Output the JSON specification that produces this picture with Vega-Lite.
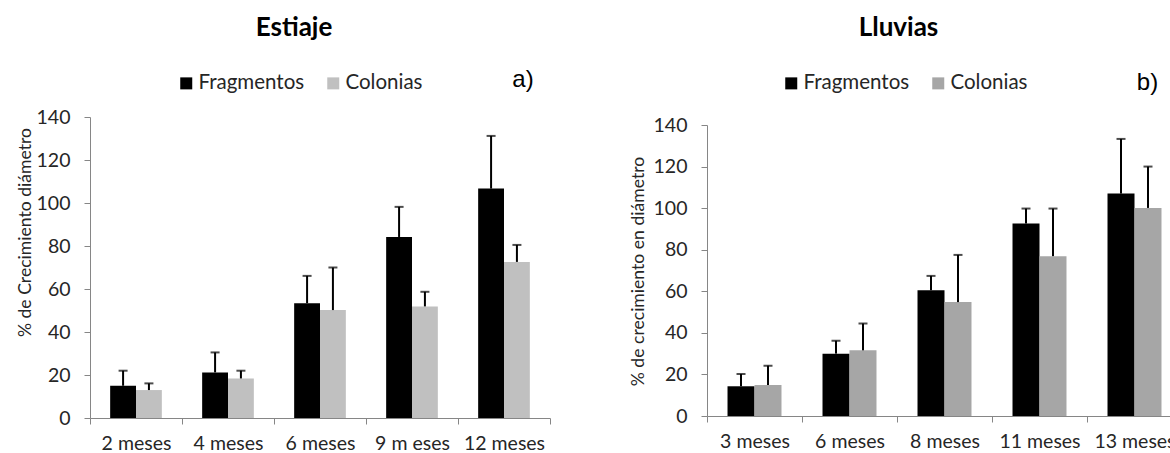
{
  "$schema": "https://vega.github.io/schema/vega-lite/v6.json",
  "background": "white",
  "padding": {"left": 15, "top": 15, "right": 0, "bottom": 0},
  "config": {
    "view": {"stroke": null},
    "font": "Lato",
    "axis": {"labelFont": "Lato", "labelFontSize": 19.5, "labelColor": "#262626", "titleFont": "Lato", "titleFontSize": 17.6, "titleFontWeight": "normal", "titleColor": "#262626", "domainColor": "#868686", "tickColor": "#868686", "grid": false, "tickSize": 6, "domainWidth": 1, "tickWidth": 1},
    "legend": {"orient": "none", "direction": "horizontal", "symbolType": "square", "symbolSize": 144, "symbolStrokeWidth": 0, "labelFont": "Lato", "labelFontSize": 20.5, "labelColor": "#262626", "columnPadding": 18, "labelOffset": 2, "padding": 0},
    "title": {"font": "Lato", "fontSize": 26, "fontWeight": "bold", "color": "#000000"}
  },
  "spacing": 78,
  "resolve": {"scale": {"x": "independent", "y": "independent", "color": "independent", "xOffset": "independent"}, "legend": {"color": "independent"}, "axis": {"x": "independent", "y": "independent"}},
  "hconcat": [
    {
      "title": {"text": "Estiaje", "frame": "group", "anchor": "middle", "dx": -26, "offset": 27},
      "width": 460,
      "height": 301,
      "data": {"values": [
        {"periodo": "2 meses", "serie": "Fragmentos", "value": 15.0, "hi": 22.0},
        {"periodo": "2 meses", "serie": "Colonias", "value": 13.0, "hi": 16.1},
        {"periodo": "4 meses", "serie": "Fragmentos", "value": 21.2, "hi": 30.5},
        {"periodo": "4 meses", "serie": "Colonias", "value": 18.4, "hi": 22.0},
        {"periodo": "6 meses", "serie": "Fragmentos", "value": 53.4, "hi": 66.1},
        {"periodo": "6 meses", "serie": "Colonias", "value": 50.2, "hi": 70.0},
        {"periodo": "9 m eses", "serie": "Fragmentos", "value": 84.2, "hi": 98.2},
        {"periodo": "9 m eses", "serie": "Colonias", "value": 51.9, "hi": 58.7},
        {"periodo": "12 meses", "serie": "Fragmentos", "value": 106.7, "hi": 131.2},
        {"periodo": "12 meses", "serie": "Colonias", "value": 72.6, "hi": 80.5}
      ]},
      "layer": [
        {
          "mark": {"type": "bar"},
          "encoding": {
            "x": {"field": "periodo", "type": "nominal", "sort": ["2 meses", "4 meses", "6 meses", "9 m eses", "12 meses"], "scale": {"paddingInner": 0, "paddingOuter": 0}, "axis": {"title": null, "labelAngle": 0, "tickBand": "extent", "labelPadding": 10}},
            "xOffset": {"field": "serie", "type": "nominal", "sort": ["Fragmentos", "Colonias"], "scale": {"paddingInner": 0, "paddingOuter": 0.78}},
            "y": {"field": "value", "type": "quantitative", "scale": {"domain": [0, 140], "nice": false}, "axis": {"title": "% de Crecimiento diámetro", "values": [0, 20, 40, 60, 80, 100, 120, 140], "titleX": -65, "titleY": 115, "titleAngle": -90, "titleBaseline": "middle", "titleAlign": "center", "labelPadding": 14}},
            "color": {"field": "serie", "type": "nominal", "sort": ["Fragmentos", "Colonias"], "scale": {"domain": ["Fragmentos", "Colonias"], "range": ["#000000", "#c0c0c0"]}, "legend": {"title": null, "legendX": 86, "legendY": -44}}
          }
        },
        {
          "mark": {"type": "rule", "strokeWidth": 2, "color": "#000000"},
          "encoding": {
            "x": {"field": "periodo", "type": "nominal", "sort": ["2 meses", "4 meses", "6 meses", "9 m eses", "12 meses"]},
            "xOffset": {"field": "serie", "type": "nominal", "sort": ["Fragmentos", "Colonias"]},
            "y": {"field": "value", "type": "quantitative", "title": "% de Crecimiento diámetro"},
            "y2": {"field": "hi"}
          }
        },
        {
          "mark": {"type": "tick", "size": 9, "thickness": 2, "color": "#000000", "orient": "horizontal"},
          "encoding": {
            "x": {"field": "periodo", "type": "nominal", "sort": ["2 meses", "4 meses", "6 meses", "9 m eses", "12 meses"]},
            "xOffset": {"field": "serie", "type": "nominal", "sort": ["Fragmentos", "Colonias"]},
            "y": {"field": "hi", "type": "quantitative", "title": "% de Crecimiento diámetro"}
          }
        },
        {
          "data": {"values": [{"periodo": "12 meses", "value": 157.2, "etiqueta": "a)"}]},
          "mark": {"type": "text", "font": "Liberation Sans", "fontSize": 24, "dx": 19, "baseline": "middle", "align": "center", "color": "#000000"},
          "encoding": {
            "x": {"field": "periodo", "type": "nominal", "sort": ["2 meses", "4 meses", "6 meses", "9 m eses", "12 meses"]},
            "y": {"field": "value", "type": "quantitative", "title": "% de Crecimiento diámetro"},
            "text": {"field": "etiqueta"}
          }
        }
      ]
    },
    {
      "title": {"text": "Lluvias", "frame": "group", "anchor": "middle", "dx": -46, "offset": 30},
      "width": 475,
      "height": 299,
      "data": {"values": [
        {"periodo": "3 meses", "serie": "Fragmentos", "value": 14.3, "hi": 20.2},
        {"periodo": "3 meses", "serie": "Colonias", "value": 14.9, "hi": 24.2},
        {"periodo": "6 meses", "serie": "Fragmentos", "value": 30.0, "hi": 36.2},
        {"periodo": "6 meses", "serie": "Colonias", "value": 31.6, "hi": 44.5},
        {"periodo": "8 meses", "serie": "Fragmentos", "value": 60.5, "hi": 67.4},
        {"periodo": "8 meses", "serie": "Colonias", "value": 54.8, "hi": 77.5},
        {"periodo": "11 meses", "serie": "Fragmentos", "value": 92.6, "hi": 99.8},
        {"periodo": "11 meses", "serie": "Colonias", "value": 76.9, "hi": 99.8},
        {"periodo": "13 meses", "serie": "Fragmentos", "value": 107.0, "hi": 133.3},
        {"periodo": "13 meses", "serie": "Colonias", "value": 100.1, "hi": 120.0}
      ]},
      "layer": [
        {
          "mark": {"type": "bar"},
          "encoding": {
            "x": {"field": "periodo", "type": "nominal", "sort": ["3 meses", "6 meses", "8 meses", "11 meses", "13 meses"], "scale": {"paddingInner": 0, "paddingOuter": 0}, "axis": {"title": null, "labelAngle": 0, "tickBand": "extent", "labelPadding": 10}},
            "xOffset": {"field": "serie", "type": "nominal", "sort": ["Fragmentos", "Colonias"], "scale": {"paddingInner": 0, "paddingOuter": 0.76}},
            "y": {"field": "value", "type": "quantitative", "scale": {"domain": [0, 140], "nice": false, "range": [299, 8]}, "axis": {"title": "% de crecimiento en diámetro", "values": [0, 20, 40, 60, 80, 100, 120, 140], "titleX": -69, "titleY": 154, "titleAngle": -90, "titleBaseline": "middle", "titleAlign": "center", "labelPadding": 14}},
            "color": {"field": "serie", "type": "nominal", "sort": ["Fragmentos", "Colonias"], "scale": {"domain": ["Fragmentos", "Colonias"], "range": ["#000000", "#a6a6a6"]}, "legend": {"title": null, "legendX": 74, "legendY": -44}}
          }
        },
        {
          "mark": {"type": "rule", "strokeWidth": 2, "color": "#000000"},
          "encoding": {
            "x": {"field": "periodo", "type": "nominal", "sort": ["3 meses", "6 meses", "8 meses", "11 meses", "13 meses"]},
            "xOffset": {"field": "serie", "type": "nominal", "sort": ["Fragmentos", "Colonias"]},
            "y": {"field": "value", "type": "quantitative", "title": "% de crecimiento en diámetro"},
            "y2": {"field": "hi"}
          }
        },
        {
          "mark": {"type": "tick", "size": 9, "thickness": 2, "color": "#000000", "orient": "horizontal"},
          "encoding": {
            "x": {"field": "periodo", "type": "nominal", "sort": ["3 meses", "6 meses", "8 meses", "11 meses", "13 meses"]},
            "xOffset": {"field": "serie", "type": "nominal", "sort": ["Fragmentos", "Colonias"]},
            "y": {"field": "hi", "type": "quantitative", "title": "% de crecimiento en diámetro"}
          }
        },
        {
          "data": {"values": [{"periodo": "13 meses", "value": 160.2, "etiqueta": "b)"}]},
          "mark": {"type": "text", "font": "Liberation Sans", "fontSize": 24, "dx": 13, "baseline": "middle", "align": "center", "color": "#000000"},
          "encoding": {
            "x": {"field": "periodo", "type": "nominal", "sort": ["3 meses", "6 meses", "8 meses", "11 meses", "13 meses"]},
            "y": {"field": "value", "type": "quantitative", "title": "% de crecimiento en diámetro"},
            "text": {"field": "etiqueta"}
          }
        }
      ]
    }
  ]
}
